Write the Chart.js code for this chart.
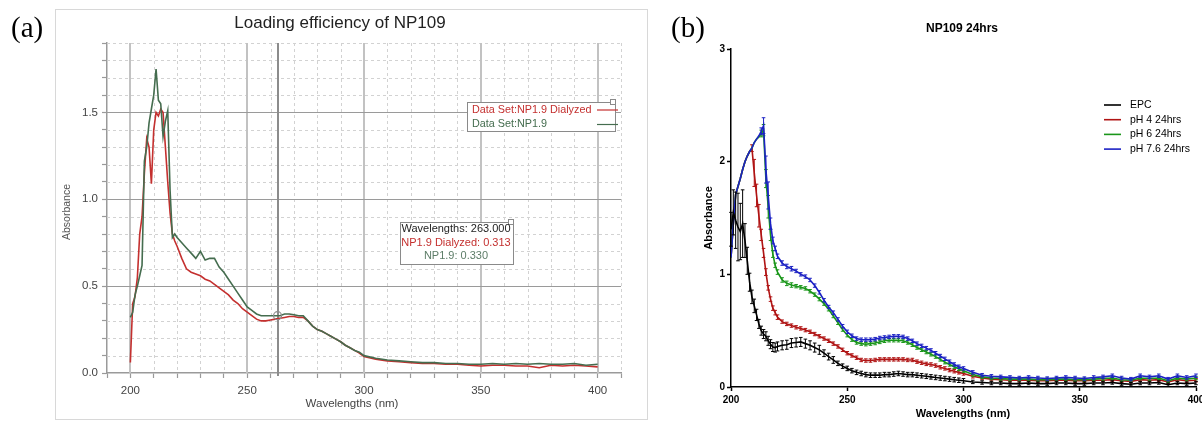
<!DOCTYPE html>
<html>
<head>
<meta charset="utf-8">
<script src="https://cdn.jsdelivr.net/npm/chart.js@4.4.1/dist/chart.umd.min.js"></script>
<style>
  html, body { margin: 0; padding: 0; background: #fff; overflow: hidden; }
  #wrap { position: relative; width: 1202px; height: 423px; }
  #boxA { position: absolute; left: 0; top: 0; width: 660px; height: 423px; }
  #boxB { position: absolute; left: 660px; top: 0; width: 542px; height: 423px; overflow: hidden; }
  canvas { display: block; }
</style>
</head>
<body>
<div id="wrap">
  <div id="boxA"><canvas id="chartA" width="660" height="423"></canvas></div>
  <div id="boxB"><canvas id="chartB" width="560" height="423"></canvas></div>
</div>
<script>
// ---------- panel (a) data ----------
const waveA = [200,201,202,203,204,205,206,207,208,209,210,211,212,213,214,215,216,217,218,219,220,
  222,224,226,228,230,232,234,236,238,240,242,244,246,248,250,252,254,256,258,260,
  262,264,266,268,270,272,274,276,278,280,282,284,286,288,290,292,294,296,298,300,
  305,310,315,320,325,330,335,340,345,350,355,360,365,370,375,380,385,390,395,400];
const np19Dialyzed = [0.06,0.40,0.44,0.55,0.80,0.90,1.15,1.35,1.30,1.09,1.40,1.50,1.48,1.52,1.50,1.30,1.10,0.92,0.80,0.76,0.73,
  0.66,0.60,0.58,0.57,0.56,0.54,0.53,0.51,0.49,0.47,0.45,0.42,0.40,0.37,0.35,0.33,0.31,0.30,0.30,0.305,
  0.31,0.315,0.32,0.325,0.325,0.32,0.32,0.30,0.27,0.25,0.24,0.225,0.21,0.195,0.18,0.16,0.145,0.13,0.115,0.095,
  0.08,0.07,0.065,0.06,0.055,0.055,0.05,0.05,0.045,0.04,0.045,0.045,0.04,0.04,0.03,0.045,0.04,0.045,0.04,0.035];
const np19 = [0.32,0.35,0.45,0.50,0.56,0.62,1.22,1.30,1.44,1.52,1.60,1.75,1.57,1.55,1.36,1.45,1.51,1.05,0.78,0.80,0.78,
  0.75,0.72,0.69,0.66,0.70,0.65,0.66,0.66,0.61,0.58,0.54,0.50,0.46,0.42,0.38,0.36,0.34,0.33,0.33,0.33,
  0.33,0.33,0.34,0.34,0.335,0.33,0.33,0.30,0.27,0.25,0.24,0.225,0.21,0.195,0.18,0.16,0.145,0.13,0.12,0.10,
  0.085,0.075,0.07,0.065,0.06,0.06,0.055,0.055,0.05,0.05,0.055,0.05,0.055,0.05,0.055,0.05,0.05,0.055,0.045,0.05];
const xLabelsA = [200, 250, 300, 350, 400];
const cursorNm = 263;
const cursorVals = { dialyzed: 0.313, plain: 0.330 };

// ---------- panel (b) data ----------
const waveB = [200,201,202,203,204,205,206,207,208,209,210,211,212,213,214,215,216,217,218,219,220,
  222,224,226,228,230,232,234,236,238,240,242,244,246,248,250,252,254,256,258,260,
  262,264,266,268,270,272,274,276,278,280,282,284,286,288,290,292,294,296,298,300,
  304,308,312,316,320,324,328,332,336,340,344,348,352,356,360,364,368,372,376,380,384,388,392,396,400];
const epc = [1.40,1.55,1.48,1.42,1.38,1.45,1.30,1.12,0.93,0.80,0.72,0.64,0.56,0.50,0.47,0.45,0.41,0.38,0.355,0.35,0.36,
  0.37,0.375,0.39,0.395,0.40,0.385,0.37,0.35,0.33,0.30,0.27,0.24,0.21,0.185,0.165,0.145,0.13,0.12,0.11,0.105,
  0.105,0.105,0.11,0.11,0.115,0.12,0.115,0.11,0.11,0.105,0.10,0.095,0.09,0.085,0.08,0.075,0.07,0.065,0.06,0.055,
  0.045,0.04,0.035,0.035,0.03,0.03,0.035,0.03,0.03,0.035,0.035,0.03,0.03,0.035,0.035,0.04,0.03,0.025,0.035,0.035,0.04,0.02,0.035,0.03,0.035];
const ph4 = [1.15,1.45,1.71,1.78,1.85,1.93,2.00,2.05,2.09,2.12,1.90,1.70,1.52,1.35,1.19,1.02,0.88,0.78,0.70,0.66,0.62,
  0.58,0.56,0.545,0.53,0.52,0.505,0.49,0.47,0.45,0.43,0.41,0.385,0.36,0.33,0.30,0.28,0.26,0.24,0.235,0.235,
  0.24,0.245,0.245,0.245,0.245,0.245,0.245,0.24,0.24,0.225,0.215,0.205,0.20,0.19,0.175,0.165,0.15,0.14,0.13,0.12,
  0.095,0.08,0.07,0.065,0.06,0.06,0.06,0.055,0.055,0.06,0.06,0.055,0.055,0.06,0.06,0.065,0.055,0.05,0.065,0.06,0.065,0.045,0.065,0.055,0.06];
const ph6 = [1.15,1.45,1.71,1.78,1.85,1.93,2.00,2.05,2.09,2.12,2.17,2.20,2.22,2.25,2.28,1.85,1.60,1.35,1.18,1.08,1.02,
  0.95,0.92,0.905,0.895,0.885,0.875,0.85,0.82,0.78,0.74,0.69,0.63,0.57,0.51,0.46,0.42,0.395,0.385,0.38,0.385,
  0.39,0.40,0.41,0.415,0.415,0.415,0.41,0.395,0.375,0.35,0.33,0.31,0.29,0.27,0.245,0.22,0.20,0.18,0.16,0.145,
  0.11,0.09,0.08,0.075,0.07,0.07,0.07,0.065,0.065,0.07,0.07,0.065,0.065,0.07,0.075,0.08,0.065,0.06,0.08,0.075,0.08,0.055,0.08,0.07,0.08];
const ph76 = [1.15,1.45,1.71,1.78,1.85,1.93,2.00,2.05,2.09,2.12,2.17,2.20,2.23,2.27,2.32,1.93,1.70,1.45,1.30,1.23,1.16,
  1.10,1.07,1.05,1.03,1.00,0.98,0.95,0.90,0.84,0.77,0.71,0.66,0.60,0.54,0.49,0.455,0.43,0.42,0.42,0.42,
  0.425,0.435,0.44,0.445,0.45,0.45,0.445,0.43,0.41,0.385,0.365,0.345,0.325,0.30,0.275,0.25,0.225,0.20,0.18,0.165,
  0.13,0.105,0.095,0.09,0.085,0.08,0.085,0.08,0.075,0.08,0.085,0.08,0.075,0.085,0.09,0.10,0.08,0.07,0.10,0.09,0.10,0.07,0.10,0.085,0.10];
// error bars (+/-), 0 = no bar drawn
const epcErr = [0.15,0.20,0.25,0.30,0.25,0.30,0.15,0.12,0.08,0.06,0.06,0.05,0.04,0.04,0.04,0.04,0.04,0.04,0.04,0.04,0.04,
  0.04,0.04,0.04,0.04,0.04,0.04,0.04,0.04,0.04,0.03,0.03,0.03,0.02,0.02,0.02,0.02,0.02,0.02,0.02,0.02,
  0.02,0.02,0.02,0.02,0.02,0.02,0.02,0.02,0.02,0.02,0.02,0.02,0.02,0.02,0.02,0.02,0.02,0.02,0.02,0.02,
  0.015,0.015,0.015,0.015,0.015,0.015,0.015,0.015,0.015,0.015,0.015,0.015,0.015,0.015,0.015,0.015,0.015,0.015,0.015,0.015,0.015,0.015,0.015,0.015,0.015];
const ph4Err = [0,0,0,0,0,0,0,0,0,0.03,0.12,0.10,0.10,0.05,0.04,0.03,0.02,0.02,0.02,0.02,0.02,
  0.015,0.015,0.015,0.015,0.015,0.015,0.015,0.015,0.015,0.015,0.015,0.015,0.015,0.015,0.015,0.015,0.015,0.015,0.015,0.015,
  0.015,0.015,0.015,0.015,0.015,0.015,0.015,0.015,0.015,0.015,0.015,0.015,0.015,0.015,0.015,0.015,0.015,0.015,0.015,0.015,
  0.015,0.015,0.015,0.015,0.015,0.015,0.015,0.015,0.015,0.015,0.015,0.015,0.015,0.015,0.015,0.015,0.015,0.015,0.015,0.015,0.015,0.015,0.015,0.015,0.015];
const ph6Err = [0,0,0,0,0,0,0,0,0,0,0,0,0,0.03,0.05,0.08,0.10,0.05,0.03,0.02,0.02,
  0.02,0.02,0.02,0.015,0.015,0.015,0.015,0.015,0.015,0.015,0.015,0.015,0.015,0.015,0.015,0.015,0.015,0.015,0.015,0.015,
  0.015,0.015,0.015,0.015,0.015,0.015,0.015,0.015,0.015,0.015,0.015,0.015,0.015,0.015,0.015,0.015,0.015,0.015,0.015,0.015,
  0.015,0.015,0.015,0.015,0.015,0.015,0.015,0.015,0.015,0.015,0.015,0.015,0.015,0.015,0.015,0.015,0.015,0.015,0.015,0.015,0.015,0.015,0.015,0.015,0.015];
const ph76Err = [0,0,0,0,0,0,0,0,0,0,0,0,0,0.03,0.07,0.12,0.12,0.05,0.03,0.02,0.02,
  0.02,0.02,0.02,0.015,0.015,0.015,0.015,0.015,0.015,0.015,0.015,0.015,0.015,0.015,0.015,0.015,0.015,0.015,0.015,0.015,
  0.015,0.015,0.015,0.015,0.015,0.015,0.015,0.015,0.015,0.015,0.015,0.015,0.015,0.015,0.015,0.015,0.015,0.015,0.015,0.015,
  0.015,0.015,0.015,0.015,0.015,0.015,0.015,0.015,0.015,0.015,0.015,0.015,0.015,0.015,0.015,0.015,0.015,0.015,0.015,0.015,0.015,0.015,0.015,0.015,0.015];
const seriesNamesB = ['EPC', 'pH 4 24hrs', 'pH 6 24hrs', 'pH 7.6 24hrs'];
// drawing order (lower = drawn on top)
const layerB = [0, 3, 2, 1];

// ---------- styling ----------
const SANS = "'Liberation Sans', Arial, sans-serif";
const SERIF = "'Liberation Serif', 'Times New Roman', serif";
const RED_A = '#c4302f';
const GREEN_A = '#456d4f';
const COLORS_B = ['#000000', '#b01414', '#1a961a', '#1c22c4'];
Chart.defaults.font.family = SANS;

const pts = (xs, ys) => xs.map((x, i) => ({ x, y: ys[i] }));

// ======================= PANEL (a) =======================
const panelA = {
  id: 'panelA',
  beforeDraw(chart) {
    const c = chart.ctx;
    c.save();
    c.fillStyle = '#fff';
    c.fillRect(0, 0, chart.width, chart.height);
    c.strokeStyle = '#d8d8d8';
    c.lineWidth = 1;
    c.strokeRect(55.5, 9.5, 592, 410);
    c.fillStyle = '#000';
    c.font = `29px ${SERIF}`;
    c.textAlign = 'left';
    c.textBaseline = 'alphabetic';
    c.fillText('(a)', 11, 37);
    c.fillStyle = '#222';
    c.font = `17px ${SANS}`;
    c.textAlign = 'center';
    c.textBaseline = 'middle';
    c.fillText('Loading efficiency of NP109', 340, 23);
    c.fillStyle = '#444';
    c.font = `11.5px ${SANS}`;
    c.fillText('Wavelengths (nm)', 352, 404);
    c.translate(67, 212);
    c.rotate(-Math.PI / 2);
    c.fillStyle = '#555';
    c.font = `10.5px ${SANS}`;
    c.fillText('Absorbance', 0, 0);
    c.restore();
  },
  beforeDatasetsDraw(chart) {
    const { ctx: c, chartArea: a, scales: { x, y } } = chart;
    c.save();
    // minor dashed grid
    c.setLineDash([3, 3]);
    c.strokeStyle = '#d2d2d2';
    c.lineWidth = 1;
    x.ticks.forEach(t => {
      if (t.value <= x.min || xLabelsA.includes(t.value)) return;
      const px = Math.round(x.getPixelForValue(t.value)) + 0.5;
      c.beginPath(); c.moveTo(px, a.top); c.lineTo(px, a.bottom); c.stroke();
    });
    y.ticks.forEach(t => {
      if (t.value <= y.min || Math.round(t.value * 10) % 5 === 0) return;
      const py = Math.round(y.getPixelForValue(t.value)) + 0.5;
      c.beginPath(); c.moveTo(a.left, py); c.lineTo(a.right, py); c.stroke();
    });
    c.setLineDash([]);
    // major vertical
    c.strokeStyle = '#c2c2c2';
    c.lineWidth = 2;
    xLabelsA.forEach(v => {
      const px = Math.round(x.getPixelForValue(v));
      c.beginPath(); c.moveTo(px, a.top); c.lineTo(px, a.bottom); c.stroke();
    });
    // major horizontal
    c.strokeStyle = '#9a9a9a';
    c.lineWidth = 1;
    y.ticks.forEach(t => {
      if (t.value <= y.min || Math.round(t.value * 10) % 5 !== 0) return;
      const py = Math.round(y.getPixelForValue(t.value)) + 0.5;
      c.beginPath(); c.moveTo(a.left, py); c.lineTo(a.right, py); c.stroke();
    });
    // cursor line
    const cx = Math.round(x.getPixelForValue(cursorNm));
    c.strokeStyle = '#8c8c8c';
    c.lineWidth = 2;
    c.beginPath(); c.moveTo(cx, a.top); c.lineTo(cx, a.bottom + 3); c.stroke();
    c.restore();
  },
  afterDatasetsDraw(chart) {
    const { ctx: c, scales: { x, y } } = chart;
    c.save();
    // cursor marker
    c.strokeStyle = '#8c8c8c';
    c.lineWidth = 1.2;
    c.beginPath();
    c.arc(x.getPixelForValue(cursorNm), y.getPixelForValue(cursorVals.plain), 4, 0, Math.PI * 2);
    c.stroke();

    // legend box
    c.fillStyle = '#fff';
    c.fillRect(467, 102, 148, 29);
    c.strokeStyle = '#8a8a8a';
    c.lineWidth = 1;
    c.strokeRect(467.5, 102.5, 148, 29);
    c.fillRect(610.5, 99.5, 5, 5);
    c.strokeRect(610.5, 99.5, 5, 5);
    c.font = `10.8px ${SANS}`;
    c.textAlign = 'left';
    c.textBaseline = 'middle';
    const legendRows = [
      { text: 'Data Set:NP1.9 Dialyzed', color: RED_A, y: 110 },
      { text: 'Data Set:NP1.9', color: GREEN_A, y: 124.5 }
    ];
    legendRows.forEach(r => {
      c.fillStyle = r.color;
      c.fillText(r.text, 472, r.y);
      c.strokeStyle = r.color;
      c.lineWidth = 1.2;
      c.beginPath(); c.moveTo(597, r.y); c.lineTo(618, r.y); c.stroke();
    });

    // readout box
    c.fillStyle = '#fff';
    c.fillRect(400, 222, 113, 42);
    c.strokeStyle = '#8a8a8a';
    c.lineWidth = 1;
    c.strokeRect(400.5, 222.5, 113, 42);
    c.fillRect(508.5, 219.5, 5, 5);
    c.strokeRect(508.5, 219.5, 5, 5);
    c.font = `11px ${SANS}`;
    c.textAlign = 'center';
    c.fillStyle = '#222';
    c.fillText(`Wavelengths: ${cursorNm.toFixed(3)}`, 456, 229);
    c.fillStyle = RED_A;
    c.fillText(`NP1.9 Dialyzed: ${cursorVals.dialyzed.toFixed(3)}`, 456, 243);
    c.fillStyle = '#5d7d68';
    c.fillText(`NP1.9: ${cursorVals.plain.toFixed(3)}`, 456, 256);
    c.restore();
  }
};

new Chart(document.getElementById('chartA').getContext('2d'), {
  type: 'line',
  data: {
    datasets: [
      { label: 'NP1.9 Dialyzed', data: pts(waveA, np19Dialyzed), order: 1, borderColor: RED_A, borderWidth: 1.6, pointRadius: 0, tension: 0 },
      { label: 'NP1.9', data: pts(waveA, np19), order: 0, borderColor: GREEN_A, borderWidth: 1.6, pointRadius: 0, tension: 0 }
    ]
  },
  options: {
    responsive: false,
    animation: false,
    events: [],
    layout: { padding: { left: 60, top: 43, right: 39, bottom: 10 } },
    plugins: { legend: { display: false }, tooltip: { enabled: false } },
    scales: {
      x: {
        type: 'linear', min: 190, max: 410,
        afterFit: s => { s.height = 40; },
        ticks: {
          stepSize: 10, autoSkip: false, maxRotation: 0, padding: 6, color: '#444',
          font: { size: 11.5 },
          callback: v => xLabelsA.includes(v) ? String(v) : ''
        },
        grid: { drawOnChartArea: false, drawTicks: true, tickLength: 5, tickColor: '#9a9a9a', tickWidth: 1.2 },
        border: { color: '#9a9a9a', width: 1.5 }
      },
      y: {
        type: 'linear', min: 0, max: 1.9,
        afterFit: s => { s.width = 47; },
        ticks: {
          stepSize: 0.1, autoSkip: false, padding: 4, color: '#444',
          font: { size: 11.5 },
          callback: v => Math.round(v * 10) % 5 === 0 ? v.toFixed(1) : ''
        },
        grid: { drawOnChartArea: false, drawTicks: true, tickLength: 5, tickColor: '#9a9a9a', tickWidth: 1.2 },
        border: { color: '#9a9a9a', width: 1.5 }
      }
    }
  },
  plugins: [panelA]
});

// ======================= PANEL (b) =======================
const errorBars = {
  id: 'errorBars',
  afterDatasetDraw(chart, args) {
    const ds = chart.data.datasets[args.index];
    if (!ds.errors) return;
    const { ctx: c, scales: { x, y } } = chart;
    c.save();
    c.strokeStyle = ds.borderColor;
    c.lineWidth = 1;
    ds.data.forEach((p, i) => {
      const e = ds.errors[i];
      if (!e) return;
      const px = x.getPixelForValue(p.x);
      const top = y.getPixelForValue(p.y + e);
      const bot = y.getPixelForValue(Math.max(p.y - e, 0));
      c.beginPath();
      c.moveTo(px, top); c.lineTo(px, bot);
      c.moveTo(px - 1.8, top); c.lineTo(px + 1.8, top);
      c.moveTo(px - 1.8, bot); c.lineTo(px + 1.8, bot);
      c.stroke();
    });
    c.restore();
  }
};

const panelB = {
  id: 'panelB',
  beforeDraw(chart) {
    const c = chart.ctx;
    c.save();
    c.fillStyle = '#fff';
    c.fillRect(0, 0, chart.width, chart.height);
    c.fillStyle = '#000';
    c.font = `29px ${SERIF}`;
    c.textAlign = 'left';
    c.textBaseline = 'alphabetic';
    c.fillText('(b)', 11, 37);
    c.font = `bold 12px ${SANS}`;
    c.textAlign = 'center';
    c.textBaseline = 'middle';
    c.fillText('NP109 24hrs', 302, 29);
    c.font = `bold 11px ${SANS}`;
    c.fillText('Wavelengths (nm)', 303, 414);
    c.translate(49, 218);
    c.rotate(-Math.PI / 2);
    c.fillText('Absorbance', 0, 0);
    c.restore();
  },
  afterDraw(chart) {
    const c = chart.ctx;
    c.save();
    c.font = `10.5px ${SANS}`;
    c.textAlign = 'left';
    c.textBaseline = 'middle';
    chart.data.datasets.forEach((ds, i) => {
      const ly = 105 + i * 14.7;
      c.strokeStyle = ds.borderColor;
      c.lineWidth = 1.6;
      c.beginPath(); c.moveTo(444, ly); c.lineTo(461, ly); c.stroke();
      c.fillStyle = '#000';
      c.fillText(ds.label, 470, ly);
    });
    c.restore();
  }
};

const valuesB = [epc, ph4, ph6, ph76];
const errorsB = [epcErr, ph4Err, ph6Err, ph76Err];

new Chart(document.getElementById('chartB').getContext('2d'), {
  type: 'line',
  data: {
    datasets: seriesNamesB.map((name, i) => ({
      label: name,
      data: pts(waveB, valuesB[i]),
      errors: errorsB[i],
      order: layerB[i],
      borderColor: COLORS_B[i],
      borderWidth: 1.6,
      pointRadius: 0,
      tension: 0
    }))
  },
  options: {
    responsive: false,
    animation: false,
    events: [],
    layout: { padding: { left: 40, top: 49, right: 24, bottom: 16 } },
    plugins: { legend: { display: false }, tooltip: { enabled: false } },
    scales: {
      x: {
        type: 'linear', min: 200, max: 400,
        afterFit: s => { s.height = 20; },
        ticks: { stepSize: 50, autoSkip: false, maxRotation: 0, padding: 3, color: '#000', font: { size: 10, weight: 'bold' } },
        grid: { drawOnChartArea: false, drawTicks: true, tickLength: 4, tickColor: '#000', tickWidth: 1.5 },
        border: { color: '#000', width: 1.5 }
      },
      y: {
        type: 'linear', min: 0, max: 3,
        afterFit: s => { s.width = 31; },
        ticks: { stepSize: 1, padding: 2, color: '#000', font: { size: 10, weight: 'bold' } },
        grid: { drawOnChartArea: false, drawTicks: true, tickLength: 4, tickColor: '#000', tickWidth: 1.5 },
        border: { color: '#000', width: 1.5 }
      }
    }
  },
  plugins: [panelB, errorBars]
});
</script>
</body>
</html>
